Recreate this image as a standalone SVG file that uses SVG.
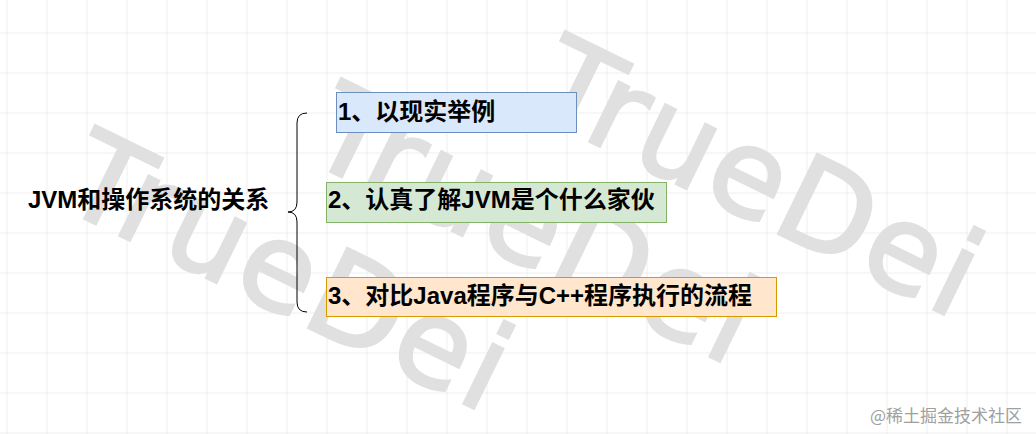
<svg xmlns="http://www.w3.org/2000/svg" width="1036" height="434" viewBox="0 0 1036 434">
<defs>
<pattern id="grid" x="6.5" y="32.5" width="40" height="40" patternUnits="userSpaceOnUse">
<path d="M0,0 H40 M0,0 V40" fill="none" stroke="#dedede" stroke-width="1"/>
</pattern>
<style>
.wm{font-family:"DejaVu Sans","Liberation Sans",sans-serif;font-size:121px;fill:#e0e0e0;stroke:#e0e0e0;stroke-width:3;}
.lbl{font-family:"Liberation Sans","Noto Sans CJK SC",sans-serif;font-size:24px;font-weight:bold;fill:#000;}
.box{stroke-width:1;}
</style>
</defs>
<rect x="0" y="0" width="1036" height="434" fill="#ffffff"/>
<rect x="0" y="0" width="1036" height="434" fill="url(#grid)"/>
<g id="watermarks">
<text class="wm" transform="translate(527 111) rotate(26)" textLength="475" lengthAdjust="spacing">TrueDei</text>
<text class="wm" transform="translate(303 158) rotate(26)" textLength="475" lengthAdjust="spacing">TrueDei</text>
<text class="wm" transform="translate(57 205) rotate(26)" textLength="475" lengthAdjust="spacing">TrueDei</text>
</g>
<g id="connectors">
<path d="M307,113 Q297,113 297,123 L297,202 Q297,212 288,212 Q297,212 297,222 L297,302 Q297,312 307,312" fill="none" stroke="#000" stroke-width="1"/>
</g>
<g id="root">
<text class="lbl" x="28" y="208">JVM和操作系统的关系</text>
</g>
<g id="node1">
<rect class="box" x="336.5" y="92.5" width="240" height="40" fill="#dae8fc" stroke="#6c8ebf"/>
<text class="lbl" x="338" y="120">1、以现实举例</text>
</g>
<g id="node2">
<rect class="box" x="326.5" y="182.5" width="340" height="40" fill="#d5e8d4" stroke="#82b366"/>
<text class="lbl" x="328" y="208">2、认真了解JVM是个什么家伙</text>
</g>
<g id="node3">
<rect class="box" x="326.5" y="277.5" width="450" height="39" fill="#ffe6cc" stroke="#d79b00"/>
<text class="lbl" x="328" y="304">3、对比Java程序与C++程序执行的流程</text>
</g>
<text x="870" y="422" font-family="'Noto Sans CJK SC','Noto Sans',sans-serif" font-size="17" fill="#a0a0a0">@稀土掘金技术社区</text>
</svg>
